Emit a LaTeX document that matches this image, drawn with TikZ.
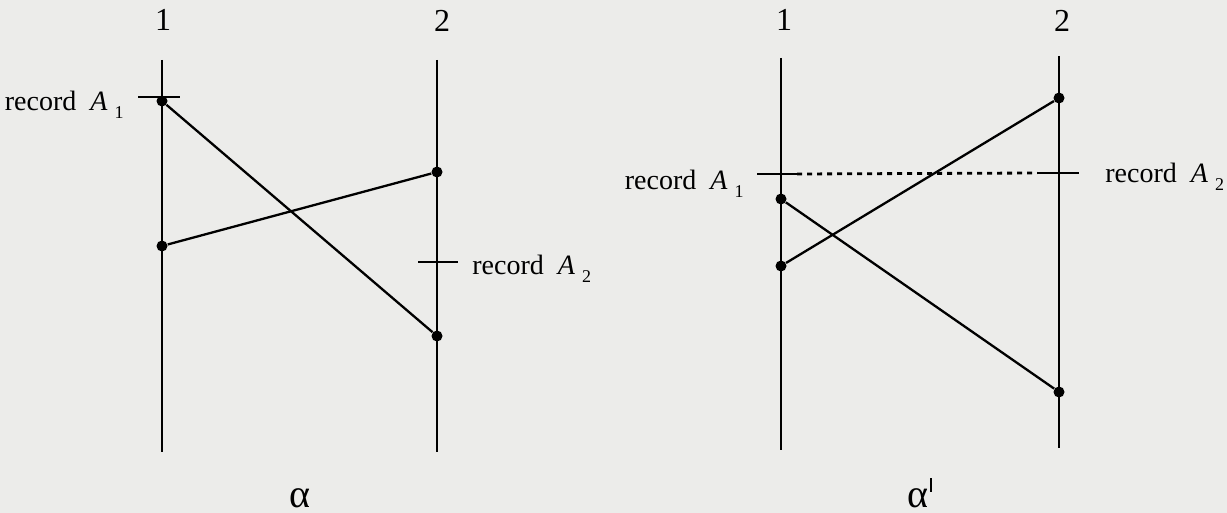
\documentclass[tikz,border=0pt]{standalone}
\usepackage{fontspec}
\setmainfont{Liberation Serif}
\usetikzlibrary{positioning}
\definecolor{paper}{HTML}{ECECEA}
\newcommand{\recA}[1]{record\hspace{0.5em}\textit{A}\hspace{0.25em}\raisebox{-0.6ex}{\fontsize{9}{9}\selectfont #1}}

\begin{document}
\begin{tikzpicture}[x=0.5pt, y=-0.5pt,
    proc/.style={line width=1.3pt},
    msg/.style={line width=1.15pt},
    tick/.style={line width=1.2pt},
    snap/.style={line width=1.4pt, dash pattern=on 2.5pt off 2.5pt},
    dot/.style={circle, fill=black, inner sep=0pt, minimum size=5.5pt},
    plabel/.style={font=\fontsize{16}{16}\selectfont, inner sep=0pt, anchor=base},
    rlabel/.style={font=\fontsize{14}{14}\selectfont, inner sep=0pt}]

      % --- Paper and Bounding Box ---
      \fill[paper] (0,0) rectangle (1227,513);
      \useasboundingbox (0,0) rectangle (1227,513);

      % --- Run alpha (Left) ---
      \coordinate (la1) at (162,60);  \coordinate (lb1) at (162,452);
      \coordinate (la2) at (437,60);  \coordinate (lb2) at (437,452);
      \draw[proc] (la1) -- (lb1);
      \draw[proc] (la2) -- (lb2);
      \node[plabel] (lp1) at (163,31) {1};
      \node[plabel] (lp2) at (442,32) {2};

      % Record Ticks
      \draw[tick] (138,97) -- (180,97);
      \draw[tick] (418,262) -- (458,262);
      \node[rlabel, anchor=base east] (lrec1) at (124,111) {\recA{1}};
      \node[rlabel, anchor=base west] (lrec2) at (472,275) {\recA{2}};

      % Messages
      \node[dot] (ls1) at (162,101) {};
      \node[dot] (lr2) at (437,336) {};
      \node[dot] (ls2) at (437,172) {};
      \node[dot] (lr1) at (162,246) {};
      \draw[msg] (ls1) -- (lr2);
      \draw[msg] (lr1) -- (ls2);

      \node[font=\fontsize{20}{20}\selectfont, inner sep=0pt, anchor=base] (lalpha) at (300,507) {α};

      % --- Run alpha' (Right) ---
      \coordinate (ra1) at (781,58);  \coordinate (rb1) at (781,450);
      \coordinate (ra2) at (1059,56); \coordinate (rb2) at (1059,448);
      \draw[proc] (ra1) -- (rb1);
      \draw[proc] (ra2) -- (rb2);
      \node[plabel] (rp1) at (784,31) {1};
      \node[plabel] (rp2) at (1062,32) {2};

      % Record Ticks and Cut
      \coordinate (rt1) at (797,174);
      \coordinate (rt2) at (1037,173);
      \draw[tick] (757,174) -- (rt1);
      \draw[tick] (rt2) -- (1079,173);
      \draw[snap] (rt1) -- (rt2);
      \node[rlabel, anchor=base east] (rrec1) at (744,190) {\recA{1}};
      \node[rlabel, anchor=base west] (rrec2) at (1105,183) {\recA{2}};

      % Messages
      \node[dot] (rs1) at (781,199) {};
      \node[dot] (rr2) at (1059,392) {};
      \node[dot] (rs2) at (1059,98) {};
      \node[dot] (rr1) at (781,266) {};
      \draw[msg] (rs1) -- (rr2);
      \draw[msg] (rr1) -- (rs2);

      \node[font=\fontsize{20}{20}\selectfont, inner sep=0pt, anchor=base] (ralpha) at (920,507) {α\textsuperscript{\kern1pt\rule{0.6pt}{1.1ex}}};

    \end{tikzpicture}
\end{document}
